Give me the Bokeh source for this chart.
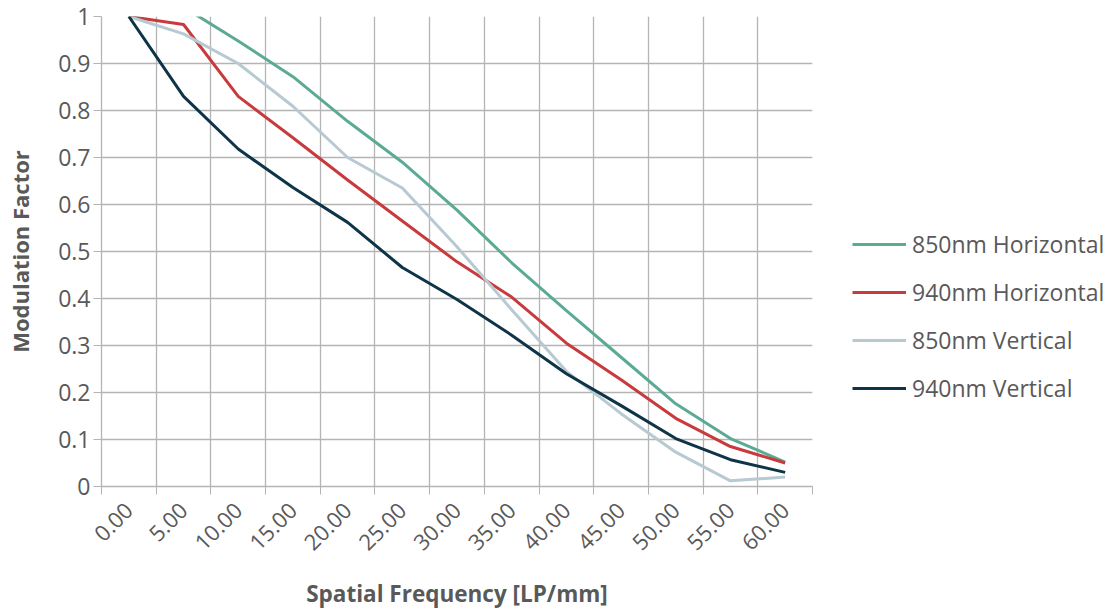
import math
from bokeh.plotting import figure
from bokeh.layouts import row
from bokeh.models import Range1d, FixedTicker, Legend, LegendItem
from bokeh.embed import file_html
from bokeh.resources import INLINE

# ---- data ----
freq = [0, 5, 10, 15, 20, 25, 30, 35, 40, 45, 50, 55, 60]
x_tick_labels = ["0.00", "5.00", "10.00", "15.00", "20.00", "25.00", "30.00",
                 "35.00", "40.00", "45.00", "50.00", "55.00", "60.00"]
y_ticks = [0, 0.1, 0.2, 0.3, 0.4, 0.5, 0.6, 0.7, 0.8, 0.9, 1.0]
y_tick_labels = ["0", "0.1", "0.2", "0.3", "0.4", "0.5", "0.6", "0.7", "0.8", "0.9", "1"]

h850 = [1.0, 1.02, 0.948, 0.872, 0.777, 0.69, 0.588, 0.476, 0.374, 0.275, 0.176, 0.102, 0.052]
h940 = [1.0, 0.983, 0.83, 0.742, 0.652, 0.565, 0.478, 0.403, 0.305, 0.227, 0.145, 0.085, 0.05]
v850 = [1.0, 0.963, 0.90, 0.809, 0.70, 0.635, 0.51, 0.376, 0.245, 0.155, 0.073, 0.012, 0.02]
v940 = [1.0, 0.83, 0.718, 0.636, 0.562, 0.466, 0.398, 0.322, 0.24, 0.172, 0.102, 0.057, 0.03]

series_names = ["850nm Horizontal", "940nm Horizontal", "850nm Vertical", "940nm Vertical"]
series_values = [h850, h940, v850, v940]
series_colors = ["#5BAA95", "#C83A3C", "#B7C9D1", "#0E3448"]

# ---- styling ----
FONT = "Open Sans"
TXT = "#595959"
GRID = "#b4b4b4"

step = freq[1] - freq[0]
boundaries = [f - step / 2 for f in freq] + [freq[-1] + step / 2]

p = figure(width=813, height=612, output_backend="svg", toolbar_location=None,
           x_range=Range1d(boundaries[0], boundaries[-1]), y_range=Range1d(0, 1),
           min_border_left=101, min_border_right=1,
           min_border_top=16, min_border_bottom=612 - 488)
p.outline_line_color = None
p.background_fill_color = "white"
p.border_fill_color = "white"

# grid
p.xgrid.ticker = FixedTicker(ticks=boundaries)
p.ygrid.ticker = FixedTicker(ticks=y_ticks)
for g in (p.xgrid, p.ygrid):
    g.grid_line_color = GRID
    g.grid_line_width = 1.3

# x axis
xa = p.xaxis[0]
xa.ticker = FixedTicker(ticks=freq, minor_ticks=boundaries)
xa.major_label_overrides = {f: lab for f, lab in zip(freq, x_tick_labels)}
xa.major_label_orientation = math.pi / 4
xa.major_tick_out = 0
xa.major_tick_in = 0
xa.minor_tick_out = 8
xa.minor_tick_in = 0
xa.minor_tick_line_color = GRID
xa.axis_line_color = GRID
xa.axis_line_width = 1.3
xa.major_label_text_font = FONT
xa.major_label_text_font_size = "22px"
xa.major_label_text_color = TXT
xa.major_label_standoff = 12
xa.axis_label = "Spatial Frequency [LP/mm]"
xa.axis_label_text_font = FONT
xa.axis_label_text_font_style = "bold"
xa.axis_label_text_font_size = "22.5px"
xa.axis_label_text_color = TXT
xa.axis_label_standoff = 18

# y axis
ya = p.yaxis[0]
ya.ticker = FixedTicker(ticks=y_ticks)
ya.major_label_overrides = {t: lab for t, lab in zip(y_ticks, y_tick_labels)}
ya.major_tick_out = 8
ya.major_tick_in = 0
ya.minor_tick_out = 0
ya.minor_tick_in = 0
ya.major_tick_line_color = GRID
ya.axis_line_color = GRID
ya.axis_line_width = 1.3
ya.major_label_text_font = FONT
ya.major_label_text_font_size = "23px"
ya.major_label_text_color = TXT
ya.major_label_standoff = 3
ya.axis_label = "Modulation Factor"
ya.axis_label_text_font = FONT
ya.axis_label_text_font_style = "bold"
ya.axis_label_text_font_size = "22px"
ya.axis_label_text_color = TXT
ya.axis_label_standoff = 20

for vals, col in zip(series_values, series_colors):
    p.line(freq, vals, line_color=col, line_width=3)

# ---- legend panel (separate figure to the right; its frame is aligned with p's) ----
q = figure(width=300, height=612, output_backend="svg", toolbar_location=None,
           min_border=0, x_range=Range1d(boundaries[0], boundaries[-1]),
           y_range=Range1d(10, 11))  # series lie outside this view: only the legend shows
q.axis.visible = False
q.grid.visible = False
q.outline_line_color = None
q.background_fill_color = "white"
q.border_fill_color = "white"

items = []
for name, vals, col in zip(series_names, series_values, series_colors):
    r = q.line(freq, vals, line_color=col, line_width=3)
    items.append(LegendItem(label=name, renderers=[r]))

legend = Legend(items=items, location=(39, 82))
legend.border_line_color = None
legend.background_fill_alpha = 0
legend.padding = 0
legend.margin = 0
legend.glyph_width = 54
legend.glyph_height = 28
legend.label_height = 28
legend.spacing = 16
legend.label_standoff = 6
legend.label_text_font = FONT
legend.label_text_font_size = "23px"
legend.label_text_color = TXT
q.add_layout(legend, "center")

layout = row(p, q, spacing=0)
open("out.html", "w").write(file_html(layout, INLINE))
